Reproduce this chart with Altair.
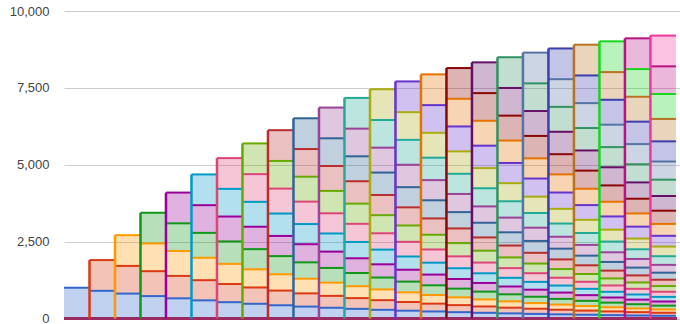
import altair as alt
import pandas as pd

# value of one cohort by its age (months since start)
age_values = [1000, 900, 810, 729, 656, 590, 531, 478, 430, 387, 349, 314,
              282, 254, 229, 206, 185, 167, 150, 135, 122, 109, 98, 89]
n_bars = 24
cohorts = [f"Cohort {k}" for k in range(1, n_bars + 1)]
palette = ["#3366cc", "#dc3912", "#ff9900", "#109618", "#990099", "#0099c6",
           "#dd4477", "#66aa00", "#b82e2e", "#316395", "#994499", "#22aa99",
           "#aaaa11", "#6633cc", "#e67300", "#8b0707", "#651067", "#329262",
           "#5574a6", "#3b3eac", "#b77322", "#16d620", "#b91383", "#f4359e"]
y_ticks = [0, 2500, 5000, 7500, 10000]

seg_rows = []
edge_rows = []
for n in range(1, n_bars + 1):
    cum = 0
    for k in range(1, n + 1):
        v = age_values[n - k]
        seg_rows.append({"bar": n, "cohort": cohorts[k - 1], "x0": n - 1, "x1": n,
                         "y0": cum, "y1": cum + v, "value": v})
        cum += v
    if n >= 2:
        edge_rows.append({"x": n - 1, "y0": 0, "y1": cum, "cohort": cohorts[n - 1]})

segs = pd.DataFrame(seg_rows)
edges = pd.DataFrame(edge_rows)

xscale = alt.Scale(domain=[0, 24.16], nice=False, zero=False)
yscale = alt.Scale(domain=[0, 10000], nice=False)
cscale = alt.Scale(domain=cohorts, range=palette)

yaxis = alt.Axis(values=y_ticks, format=",d", title=None, domain=False, ticks=False,
                 labelPadding=15, labelFontSize=13, labelColor="#444444",
                 labelFont="Liberation Sans", gridColor="#cccccc", gridWidth=1)

fills = alt.Chart(segs).mark_rect(fillOpacity=0.3, strokeWidth=0).encode(
    x=alt.X("x0:Q", scale=xscale, axis=None),
    x2="x1:Q",
    y=alt.Y("y0:Q", scale=yscale, axis=yaxis),
    y2="y1:Q",
    color=alt.Color("cohort:N", scale=cscale, legend=None),
)

tops = alt.Chart(segs).mark_rule(strokeWidth=2).encode(
    x=alt.X("x0:Q", scale=xscale, axis=None),
    x2="x1:Q",
    y=alt.Y("y1:Q", scale=yscale),
    color=alt.Color("cohort:N", scale=cscale, legend=None),
)

baseline = alt.Chart(segs).mark_rule(strokeWidth=2, color="#9b2a62").encode(
    x=alt.value(0), x2=alt.value(613), y=alt.datum(0, scale=yscale)
)

verts = alt.Chart(edges).mark_rule(strokeWidth=2.5).encode(
    x=alt.X("x:Q", scale=xscale, axis=None),
    y=alt.Y("y0:Q", scale=yscale),
    y2="y1:Q",
    color=alt.Color("cohort:N", scale=cscale, legend=None),
)

chart = alt.layer(fills, tops, baseline, verts).properties(
    width=616, height=307.5,
    autosize=alt.AutoSizeParams(type="none"),
    padding={"left": 64, "top": 11, "right": 0, "bottom": 5},
).configure_view(stroke=None)

chart.save("out.html", embed_options={"renderer": "svg", "actions": False})
